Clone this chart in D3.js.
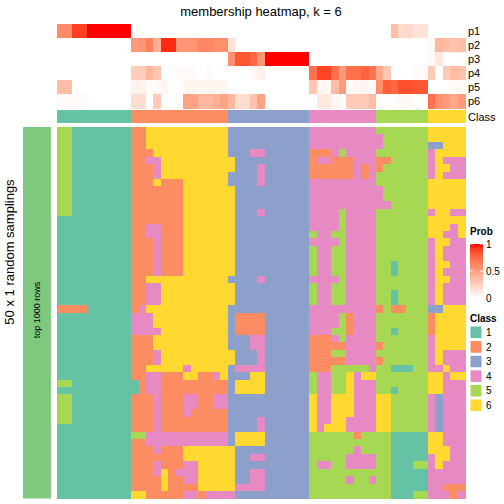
<!DOCTYPE html>
<html><head><meta charset="utf-8">
<script src="https://cdn.jsdelivr.net/npm/d3@7"></script>
<style>html,body{margin:0;padding:0;background:#fff;}svg{display:block;font-family:"Liberation Sans",Arial,sans-serif;}</style>
</head><body><svg id="chart" width="504" height="504"></svg>
<script>
const classLevels = [1,2,3,4,5,6];
const classColors = ["#66C2A5","#FC8D62","#8DA0CB","#E78AC3","#A6D854","#FFD92F"];
const probLabels = ["p1","p2","p3","p4","p5","p6"];
const colClass = [1,1,1,1,1,1,1,1,1,1, 2,2,2,2,2,2,2,2,2,2,2,2,2, 3,3,3,3,3,3,3,3,3,3,3, 4,4,4,4,4,4,4,4,4, 5,5,5,5,5,5,5, 6,6,6,6,6];
const p1 = [0.6,0.6,0.9,0.9,1,1,1,1,1,1, 0.02,0,0,0,0,0,0,0,0,0,0,0,0, 0,0,0,0,0,0,0,0,0,0,0, 0,0,0,0,0,0,0,0,0, 0,0,0.35,0.2,0.2,0.15,0.15, 0,0,0,0,0];
const p2 = [0,0,0,0,0,0,0,0,0,0, 0.52,0.55,0.65,0.42,0.95,0.95,0.55,0.55,0.55,0.62,0.62,0.58,0.58, 0.15,0,0,0,0,0,0,0,0,0,0, 0,0,0,0,0,0,0,0,0, 0,0,0,0,0,0,0, 0.04,0.38,0.35,0.32,0.35];
const p3 = [0,0,0,0,0,0,0,0,0,0, 0,0,0,0,0,0,0,0,0,0,0,0,0, 0.58,0.82,0.82,0.75,0.55,1,1,1,1,1,1, 0,0,0,0,0,0,0,0,0, 0,0,0,0,0,0,0, 0.04,0.12,0,0,0];
const p4 = [0,0,0,0,0,0,0,0,0,0, 0.27,0.27,0.38,0.3,0,0,0.02,0.03,0.03,0,0.03,0,0, 0,0,0,0.04,0.08,0,0,0,0,0,0, 0.72,0.88,0.88,0.72,0.52,0.72,0.72,0.78,0.7, 0.45,0.3,0,0,0,0.03,0.03, 0.28,0,0.28,0.35,0.32];
const p5 = [0.35,0.35,0,0,0,0,0,0,0,0, 0.07,0.07,0.03,0.04,0.05,0,0,0.05,0.05,0.05,0.05,0.05,0.05, 0,0,0,0,0,0,0,0,0,0,0, 0.3,0.04,0.04,0.35,0.52,0.03,0.05,0.05,0.02, 0.58,0.8,0.75,0.85,0.85,0.82,0.82, 0,0,0,0.03,0.03];
const p6 = [0.03,0.03,0.03,0.03,0,0,0,0,0,0, 0.18,0.18,0,0.28,0,0,0.02,0.48,0.48,0.38,0.38,0.42,0.48, 0.38,0.18,0.18,0.32,0.48,0,0,0,0,0,0, 0,0.12,0.12,0.05,0,0.28,0.28,0.28,0.35, 0.02,0.01,0.01,0.04,0.04,0,0, 0.72,0.58,0.52,0.45,0.52];
// 50 random samplings x 55 samples, class labels
const samplingRows = [
"5511111111"+"2266666666666"+"33333333333"+"444444444"+"5555555"+"66666",
"5511111111"+"2266666666666"+"33333333333"+"444444444"+"4555555"+"66666",
"5511111111"+"2266666666666"+"33333333333"+"444444444"+"4555555"+"33666",
"5511111111"+"2226666666666"+"33344333333"+"222454444"+"5555555"+"46666",
"5511111111"+"2244666666666"+"63333333333"+"244222444"+"2255555"+"46444",
"5511111111"+"2224666666666"+"63334333333"+"222222424"+"2555555"+"46644",
"5511111111"+"2224666666666"+"33334333333"+"222222424"+"5555555"+"46444",
"5511111111"+"2226222666666"+"33334333333"+"444444444"+"5555555"+"66666",
"5511111111"+"2222222666666"+"63333333333"+"444444444"+"4555555"+"66666",
"5511111111"+"2222222666666"+"63333333333"+"444444444"+"4555555"+"66666",
"5511111111"+"2222222666666"+"63333333333"+"444444444"+"4455555"+"66666",
"5511111111"+"2222222666666"+"63334333333"+"444454444"+"5555555"+"46644",
"1111111111"+"2222222666666"+"63333333333"+"444454444"+"5555555"+"66666",
"1111111111"+"2244222666666"+"63333333333"+"444454444"+"5555555"+"66646",
"1111111111"+"2244222666666"+"63333333333"+"544554444"+"5555555"+"66446",
"1111111111"+"2224222666666"+"63333333333"+"444454444"+"5555555"+"46644",
"1111111111"+"2224222666666"+"63333333333"+"544554444"+"5555555"+"46444",
"1111111111"+"2224222666666"+"63333333333"+"544554444"+"5555555"+"46444",
"1111111111"+"2224222666666"+"63333333333"+"544554444"+"5515555"+"46644",
"1111111111"+"2224222666666"+"63333333333"+"544554444"+"5515555"+"46444",
"1111111111"+"2266666666666"+"33334333333"+"444454444"+"5555555"+"46644",
"1111111111"+"2244666666666"+"63333333333"+"544554444"+"5555555"+"46444",
"1111111111"+"2244666666666"+"63333333333"+"544554444"+"5515555"+"46444",
"1111111111"+"2244666666666"+"63333333333"+"544554444"+"5515555"+"46444",
"2222111111"+"2466666666666"+"33333333333"+"444444444"+"2522555"+"33666",
"1111111111"+"4446666666666"+"32222333333"+"444452444"+"5555555"+"26666",
"1111111111"+"4446666666666"+"32222333333"+"444452444"+"5555555"+"26666",
"1111111111"+"4444666666666"+"32222333333"+"444552444"+"5515555"+"26666",
"1111111111"+"2226666666666"+"33344333333"+"222454444"+"5555555"+"46666",
"1111111111"+"2226666666666"+"33344333333"+"222224444"+"2555555"+"46666",
"1111111111"+"2224666666666"+"63334333333"+"222554444"+"5555555"+"46444",
"1111111111"+"2224666666666"+"63334333333"+"222224444"+"2555555"+"46444",
"1111111111"+"2266666466666"+"34444333333"+"222555554"+"5511155"+"44644",
"1111111111"+"2244222662246"+"33366333333"+"544556466"+"5555555"+"66466",
"5511111111"+"1244222222222"+"36666333333"+"544556444"+"5555555"+"66444",
"1111111111"+"1244222222222"+"36666333333"+"544556444"+"5515555"+"66444",
"5511111111"+"2224222442244"+"33333333333"+"644666444"+"6655555"+"43444",
"5511111111"+"2224222442244"+"33333333333"+"644666444"+"6655555"+"43444",
"5511111111"+"2224222422222"+"33333333333"+"644666444"+"6655555"+"43444",
"5511111111"+"2224222222222"+"33334333333"+"644664444"+"6655555"+"43444",
"1111111111"+"2224222222222"+"33334333333"+"646664444"+"6655555"+"43444",
"1111111111"+"5544444444444"+"36666333333"+"555555255"+"5511111"+"66444",
"1111111111"+"2244444444444"+"36666333333"+"555555555"+"5511111"+"66444",
"1111111111"+"2224222666666"+"63333333333"+"555555455"+"5511111"+"66644",
"1111111111"+"2222222666666"+"63344333333"+"555554444"+"5511111"+"46644",
"1111111111"+"2224222446666"+"63333333333"+"544554444"+"5511155"+"46444",
"1111111111"+"2224624446666"+"63344333333"+"555555555"+"5511111"+"44444",
"1111111111"+"2222622446666"+"63344333333"+"555554554"+"5511111"+"44444",
"1111111111"+"2222622226666"+"64444333333"+"555555555"+"5511111"+"44222",
"1111111111"+"6622222442444"+"43333333333"+"555555555"+"5511155"+"44424"
];
const probTicks = [0, 0.5, 1];

const svg = d3.select("#chart");
const nCol = colClass.length, nRow = samplingRows.length;
const x = d3.scaleBand().domain(d3.range(nCol)).range([57, 465]);
const y = d3.scaleBand().domain(d3.range(nRow)).range([127, 498.5]);
const yAnno = d3.scaleBand().domain(probLabels).range([24, 108]);
const classColor = d3.scaleOrdinal().domain(classLevels).range(classColors);
const probColor = d3.scaleLinear().domain([0,1]).range(["#FFFFFF","#FF0000"]).interpolate(d3.interpolateLab);
const probs = [p1,p2,p3,p4,p5,p6];

// title
svg.append("text").attr("x",261).attr("y",16).attr("text-anchor","middle").attr("font-size",13).text("membership heatmap, k = 6");

// probability annotation
const gA = svg.append("g").attr("shape-rendering","crispEdges");
probLabels.forEach((lab,i)=>{
  gA.selectAll(null).data(probs[i]).join("rect")
    .attr("x",(d,j)=>x(j)).attr("width",x.bandwidth()+0.5)
    .attr("y",yAnno(lab)).attr("height",yAnno.bandwidth()+0.5)
    .attr("fill",d=>probColor(d));
  svg.append("text").attr("x",468).attr("y",yAnno(lab)+yAnno.bandwidth()/2+4).attr("font-size",11).text(lab);
});
// class annotation
gA.selectAll(null).data(colClass).join("rect")
  .attr("x",(d,j)=>x(j)).attr("width",x.bandwidth()+0.5)
  .attr("y",110).attr("height",13).attr("fill",d=>classColor(d));
svg.append("text").attr("x",468).attr("y",121).attr("font-size",11).text("Class");

// main heatmap
const cells = [];
samplingRows.forEach((s,r)=>{ for(let c=0;c<s.length;c++) cells.push({r,c,v:+s[c]}); });
svg.append("g").attr("shape-rendering","crispEdges").selectAll("rect").data(cells).join("rect")
  .attr("x",d=>x(d.c)).attr("y",d=>y(d.r))
  .attr("width",x.bandwidth()+0.5).attr("height",y.bandwidth()+0.5)
  .attr("fill",d=>classColor(d.v));

// left split bar
svg.append("rect").attr("x",23).attr("y",127).attr("width",28).attr("height",371.5).attr("fill","#7FC97F");
svg.append("text").attr("transform","translate(40,310) rotate(-90)").attr("text-anchor","middle").attr("font-size",9).text("top 1000 rows");
svg.append("text").attr("transform","translate(14,252) rotate(-90)").attr("text-anchor","middle").attr("font-size",13).text("50 x 1 random samplings");

// legend: Prob
svg.append("text").attr("x",470).attr("y",235).attr("font-size",10).attr("font-weight","bold").text("Prob");
const defs = svg.append("defs");
const grad = defs.append("linearGradient").attr("id","pg").attr("x1",0).attr("x2",0).attr("y1",1).attr("y2",0);
d3.range(0,1.01,0.1).forEach(t=>grad.append("stop").attr("offset",t).attr("stop-color",probColor(t)));
const ly = d3.scaleLinear().domain([0,1]).range([298,244]);
svg.append("rect").attr("x",470).attr("y",244).attr("width",13).attr("height",54).attr("fill","url(#pg)");
probTicks.forEach(t=>{
  svg.append("line").attr("x1",470).attr("x2",473).attr("y1",ly(t)).attr("y2",ly(t)).attr("stroke","#fff").attr("stroke-width",0.8);
  svg.append("line").attr("x1",480).attr("x2",483).attr("y1",ly(t)).attr("y2",ly(t)).attr("stroke","#fff").attr("stroke-width",0.8);
  svg.append("text").attr("x",486).attr("y",ly(t)+3.5).attr("font-size",10).text(t);
});
// legend: Class
svg.append("text").attr("x",470).attr("y",322).attr("font-size",10).attr("font-weight","bold").text("Class");
classLevels.forEach((c,i)=>{
  svg.append("rect").attr("x",470).attr("y",326+i*14.6).attr("width",12).attr("height",12.6).attr("fill",classColor(c)).attr("stroke","#fff");
  svg.append("text").attr("x",486).attr("y",336+i*14.6).attr("font-size",10).text(c);
});
</script></body></html>
